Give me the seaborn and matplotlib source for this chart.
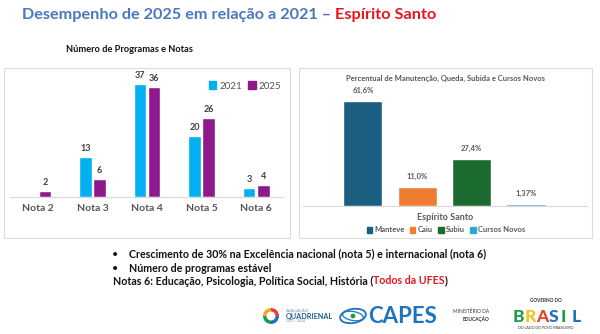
import matplotlib
matplotlib.use("Agg")
import matplotlib.pyplot as plt
from matplotlib.patches import Rectangle, Wedge, Ellipse, Circle
import seaborn as sns
import pandas as pd

# ---------------- data ----------------
notas = ["Nota 2", "Nota 3", "Nota 4", "Nota 5", "Nota 6"]
v2021 = [0, 13, 37, 20, 3]
v2025 = [2, 6, 36, 26, 4]

status = ["Manteve", "Caiu", "Subiu", "Cursos Novos"]
percent = [61.6, 11.0, 27.4, 1.37]
percent_labels = ["61,6%", "11,0%", "27,4%", "1,37%"]

title_a = "Desempenho de 2025 em relação a 2021 – "
title_b = "Espírito Santo"
subtitle_left = "Número de Programas e Notas"
title_right = "Percentual de Manutenção, Queda, Subida e Cursos Novos"
xlabel_right = "Espírito Santo"
bullets = ["Crescimento de 30% na Excelência nacional (nota 5) e internacional (nota 6)",
           "Número de programas estável"]
note_a = "Notas 6: Educação, Psicologia, Política Social, História ("
note_b = "Todos da UFES"
note_c = ")"

C2021 = "#00B0F0"
C2025 = "#8C1A8C"
right_colors = ["#1B5E80", "#EE7D31", "#1C6B2E", "#29A8DC"]

sns.set_theme(style="white")
plt.rcParams["font.family"] = ["Lato", "DejaVu Sans"]

W, H = 600, 334
fig = plt.figure(figsize=(6, 3.34), dpi=100)
fig.patch.set_facecolor("white")

def fx(px):
    return px / W

def fy(py):
    return 1 - py / H

# ---------------- title ----------------
t1 = fig.text(fx(22), fy(15), title_a, fontsize=11.7, fontweight="bold",
              color="#4A78BE", va="center", ha="left")
fig.canvas.draw()
bb = t1.get_window_extent()
fig.text(bb.x1 / W, fy(15), title_b, fontsize=11.7, fontweight="bold",
         color="#E8141C", va="center", ha="left")

fig.text(fx(129), fy(50), subtitle_left, fontsize=6.7, fontweight="bold",
         color="#111111", va="center", ha="center")

# ---------------- boxes ----------------
for (x0, y0, x1, y1) in [(4, 68, 290, 238), (299, 68, 592, 238)]:
    fig.patches.append(Rectangle((fx(x0), fy(y1)), fx(x1 - x0), (y1 - y0) / H,
                                 transform=fig.transFigure, facecolor="white",
                                 edgecolor="#DCDCDC", linewidth=0.8, zorder=-5))

# ---------------- left chart ----------------
axL = fig.add_axes([fx(10), fy(197), fx(274), 122 / H])
dfL = pd.DataFrame({
    "nota": notas * 2,
    "valor": v2021 + v2025,
    "ano": ["2021"] * len(notas) + ["2025"] * len(notas),
})
sns.barplot(data=dfL, x="nota", y="valor", hue="ano", ax=axL,
            palette={"2021": C2021, "2025": C2025}, width=0.52, gap=0.1,
            saturation=1, legend=False)
axL.set_ylim(0, 40)
axL.set_xlim(-0.51, 4.51)
for cont in axL.containers:
    labels = [f"{int(b.get_height())}" if b.get_height() > 0 else "" for b in cont]
    axL.bar_label(cont, labels=labels, padding=3, fontsize=6.5,
                  fontweight="bold", color="#404040")
axL.set_xlabel("")
axL.set_ylabel("")
axL.set_yticks([])
axL.tick_params(axis="x", length=0, pad=5, labelsize=7.5, labelcolor="#555555")
for lab in axL.get_xticklabels():
    lab.set_fontweight("bold")
for s in ["top", "right", "left"]:
    axL.spines[s].set_visible(False)
axL.spines["bottom"].set_color("#D9D9D9")
axL.spines["bottom"].set_linewidth(0.8)
axL.patch.set_alpha(0)
handles = [Rectangle((0, 0), 1, 1, color=C2021), Rectangle((0, 0), 1, 1, color=C2025)]
axL.legend(handles, ["2021", "2025"], loc="center right", bbox_to_anchor=(0.99, 0.91),
           ncol=2, frameon=False, fontsize=7, handlelength=0.8, handleheight=0.8,
           handletextpad=0.3, columnspacing=0.6, labelcolor="#555555",
           borderaxespad=0, borderpad=0)

# ---------------- right chart ----------------
axR = fig.add_axes([fx(303), fy(206), fx(284), 119 / H])
dfR = pd.DataFrame({"status": status, "pct": percent})
sns.barplot(data=dfR, x="status", y="pct", hue="status", ax=axR,
            palette=dict(zip(status, right_colors)), width=0.72, saturation=1,
            legend=False)
axR.set_ylim(0, 70)
axR.set_xlim(-1.1, 4.12)
for cont, lab in zip(axR.containers, percent_labels):
    axR.bar_label(cont, labels=[lab], padding=5, fontsize=5.5,
                  fontweight="bold", color="#595959")
axR.set_xticks([])
axR.set_yticks([])
axR.set_xlabel("")
axR.set_ylabel("")
for s in ["top", "right", "left"]:
    axR.spines[s].set_visible(False)
axR.spines["bottom"].set_color("#D9D9D9")
axR.spines["bottom"].set_linewidth(0.8)
axR.patch.set_alpha(0)

fig.text(fx(445), fy(78), title_right, fontsize=5.5, fontweight="bold",
         color="#595959", ha="center", va="center")
fig.text(fx(445), fy(217), xlabel_right, fontsize=6.5, fontweight="bold",
         color="#595959", ha="center", va="center")
hR = [Rectangle((0, 0), 1, 1, color=c) for c in right_colors]
fig.legend(hR, status, loc="center", bbox_to_anchor=(fx(446), fy(230)), ncol=4,
           frameon=False, handlelength=0.7, handleheight=0.7,
           handletextpad=0.3, columnspacing=0.7, labelcolor="#595959",
           prop={"weight": "bold", "size": 5.5})

# ---------------- bullet text ----------------
FS = 7.7
for i, b in enumerate(bullets):
    y = fy(254 + 14 * i)
    fig.text(fx(115), y, "•", fontsize=FS, color="#111111", va="center", ha="center")
    fig.text(fx(129), y, b, fontsize=FS, fontweight="bold", color="#111111",
             va="center", ha="left")
yN = fy(281)
ta = fig.text(fx(113), yN, note_a, fontsize=FS, fontweight="bold", color="#111111",
              va="center", ha="left")
fig.canvas.draw()
x_ = ta.get_window_extent().x1 / W
tb = fig.text(x_, yN, note_b, fontsize=FS, fontweight="bold", color="#E8141C",
              va="center", ha="left")
fig.canvas.draw()
x_ = tb.get_window_extent().x1 / W
fig.text(x_, yN, note_c, fontsize=FS, fontweight="bold", color="#111111",
         va="center", ha="left")

# ---------------- logos (approximation) ----------------
lax = fig.add_axes([0, 0, 1, 1], zorder=5)
lax.set_xlim(0, W)
lax.set_ylim(H, 0)
lax.axis("off")
lax.patch.set_alpha(0)
ring_cols = ["#1B9E4B", "#F6A81C", "#E8412C", "#1E73BE"]
for k, c in enumerate(ring_cols):
    lax.add_patch(Wedge((271, 316), 8, 90 + k * 90, 180 + k * 90, width=3.5,
                        facecolor=c, edgecolor="none"))
lax.text(286, 310.5, "AVALIAÇÃO", fontsize=3, color="#6D8FB3", va="center")
lax.text(286, 316, "QUADRIENAL", fontsize=5.2, fontweight="bold", color="#1E5E8E",
         va="center")
lax.text(286, 321.5, "2021 - 2024", fontsize=2.5, color="#8C8C8C", va="center")
lax.add_patch(Ellipse((353, 316), 26, 14, angle=-10, facecolor="none",
                      edgecolor="#1E73BE", linewidth=1.3))
lax.add_patch(Ellipse((353, 316), 21, 9, angle=10, facecolor="none",
                      edgecolor="#1E73BE", linewidth=0.9))
lax.add_patch(Circle((353, 316), 2.4, facecolor="#1B9E4B", edgecolor="none"))
lax.text(368, 316.5, "CAPES", fontsize=16, fontweight="bold", color="#1E73BE",
         va="center", ha="left")
lax.text(489, 311, "MINISTÉRIO DA", fontsize=3.5, color="#333333", va="center",
         ha="right")
lax.text(489, 319, "EDUCAÇÃO", fontsize=3.5, fontweight="bold", color="#333333",
         va="center", ha="right")
lax.text(546, 301, "GOVERNO DO", fontsize=3.4, fontweight="bold", color="#333333",
         va="center", ha="center")
letters = "BRASIL"
lcols = ["#1E9E4A", "#F6C21C", "#E8412C", "#1E73BE", "#1E9E4A", "#1E73BE"]
for k, (ch, c) in enumerate(zip(letters, lcols)):
    lax.text(513 + k * 11.8, 316.5, ch, fontsize=12.5, fontweight="black", color=c,
             va="center", ha="left")
lax.text(546, 328, "DO LADO DO POVO BRASILEIRO", fontsize=2.6, color="#333333",
         va="center", ha="center")

fig.savefig("out.png", dpi=100, facecolor="white")
